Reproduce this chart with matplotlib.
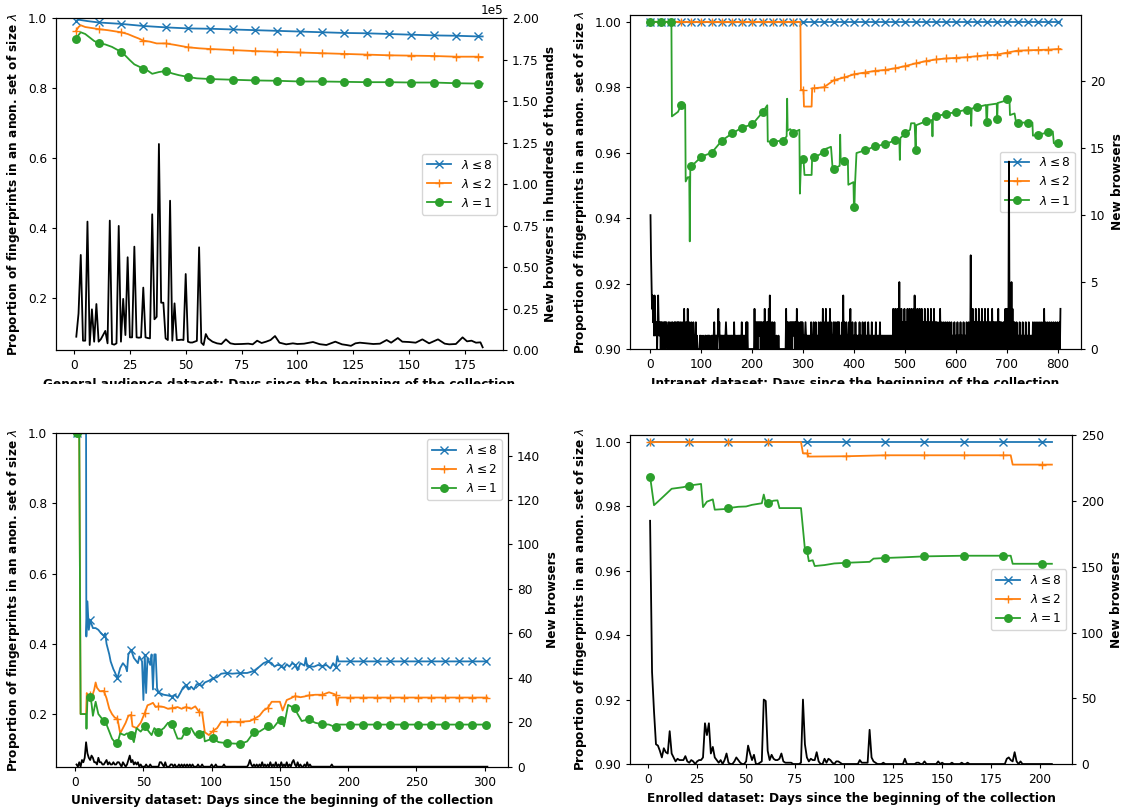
import numpy as np
import matplotlib.pyplot as plt
from matplotlib.lines import Line2D
from matplotlib.patches import Rectangle
from matplotlib.ticker import MultipleLocator

plt.rcParams["font.size"] = 8.7
plt.rcParams["lines.linewidth"] = 1.3
plt.rcParams["lines.markersize"] = 5.4
plt.rcParams["axes.linewidth"] = 0.8
plt.rcParams["xtick.major.size"] = 3
plt.rcParams["ytick.major.size"] = 3

BLUE, ORANGE, GREEN = "#1f77b4", "#ff7f0e", "#2ca02c"
LABELS = ["$\\lambda \\leq 8$", "$\\lambda \\leq 2$", "$\\lambda = 1$"]
YLABEL = "Proportion of fingerprints in an anon. set of size $\\lambda$"
XTAIL = "Days since the beginning of the collection"

# ---------------- general audience ----------------
ga_blue_days = [1, 2, 3, 6, 11, 16, 21, 26, 31, 36, 41, 51, 61, 71, 81, 91, 101,
                111, 121, 131, 141, 151, 161, 171, 181, 183]
ga_blue = [0.993, 0.996, 0.995, 0.992, 0.988, 0.986, 0.984, 0.981, 0.978, 0.976,
           0.974, 0.971, 0.970, 0.968, 0.966, 0.964, 0.962, 0.960, 0.958, 0.957,
           0.955, 0.953, 0.951, 0.950, 0.948, 0.948]
ga_orange_days = [1, 2, 3, 5, 8, 11, 15, 18, 21, 24, 27, 29, 31, 34, 37, 41, 45, 51,
                  56, 61, 71, 81, 91, 101, 111, 121, 131, 141, 151, 161, 171, 181, 183]
ga_orange = [0.965, 0.975, 0.980, 0.975, 0.972, 0.969, 0.966, 0.963, 0.960, 0.955,
             0.947, 0.942, 0.936, 0.933, 0.928, 0.928, 0.924, 0.917, 0.914, 0.912,
             0.909, 0.906, 0.904, 0.902, 0.900, 0.898, 0.896, 0.894, 0.893, 0.892,
             0.890, 0.890, 0.889]
ga_green_days = [1, 2, 3, 5, 7, 9, 11, 14, 17, 21, 23, 25, 27, 29, 31, 33, 35, 38, 41,
                 44, 47, 51, 55, 61, 71, 81, 91, 101, 111, 121, 131, 141, 151, 161,
                 171, 181, 183]
ga_green = [0.940, 0.952, 0.960, 0.955, 0.945, 0.935, 0.929, 0.925, 0.918, 0.904,
            0.893, 0.880, 0.868, 0.862, 0.855, 0.850, 0.841, 0.846, 0.849, 0.842,
            0.837, 0.832, 0.828, 0.826, 0.824, 0.822, 0.821, 0.819, 0.819, 0.818,
            0.817, 0.817, 0.816, 0.816, 0.814, 0.813, 0.813]
ga_new_days = [1, 2, 3, 4, 5, 6, 7, 8, 9, 10, 11, 12, 13, 14, 15, 16, 17, 18, 19, 20,
               21, 22, 23, 24, 25, 26, 27, 28, 29, 30, 31, 32, 33, 34, 35, 36, 37, 38,
               39, 40, 41, 42, 43, 44, 45, 46, 47, 48, 49, 50, 51, 52, 53, 54, 55, 56,
               57, 58, 59, 60, 62, 64, 66, 68, 70, 72, 75, 78, 80, 82, 84, 86, 88, 90,
               92, 95, 98, 100, 103, 107, 110, 113, 117, 120, 122, 124, 126, 128, 131,
               134, 137, 140, 142, 145, 147, 150, 153, 156, 159, 163, 166, 168, 171,
               174, 176, 178, 180, 182, 183]
ga_new = [8000, 22000, 57300, 5600, 5600, 77400, 3000, 24500, 5000, 27700, 5000,
          6500, 9000, 11500, 4000, 78000, 3600, 3200, 4000, 74800, 5000, 30800, 9000,
          55900, 7600, 7600, 62300, 7600, 7400, 7600, 37600, 7600, 7200, 7000, 81800,
          18500, 20000, 124200, 28500, 28500, 7000, 6000, 90000, 5600, 28100, 6000,
          6000, 6200, 6000, 45800, 5000, 4500, 4500, 5000, 5500, 61900, 4400, 3000,
          9600, 7000, 5000, 4000, 3600, 6400, 4000, 3500, 3600, 3800, 3400, 5600,
          4200, 5000, 6000, 8400, 4400, 3400, 4000, 3600, 3800, 4800, 3500, 3000,
          5000, 3400, 3000, 2500, 4000, 4400, 4000, 3600, 3800, 6000, 4400, 7200,
          5000, 4800, 4400, 6400, 4000, 6400, 3800, 3400, 3600, 7600, 5200, 5600,
          4400, 4600, 1600]

# ---------------- intranet ----------------
in_blue_days = [1, 21, 41, 61, 81, 101, 121, 141, 161, 181, 201, 221, 241, 261, 281,
                301, 321, 341, 361, 381, 401, 421, 441, 461, 481, 501, 521, 541, 561,
                581, 601, 621, 641, 661, 681, 701, 721, 741, 761, 781, 801, 805]
in_blue = [1.0] * len(in_blue_days)
in_orange_days = [1, 21, 41, 61, 81, 101, 121, 141, 161, 181, 201, 221, 241, 261, 281,
                  295, 296, 301, 302, 317, 318, 321, 341, 361, 381, 401, 421, 441, 461,
                  481, 501, 521, 541, 561, 581, 601, 621, 641, 661, 681, 701, 721, 741,
                  761, 781, 801, 805]
in_orange = [1.0, 1.0, 1.0, 1.0, 1.0, 1.0, 1.0, 1.0, 1.0, 1.0, 1.0, 1.0, 1.0, 1.0, 1.0,
             1.0, 0.9792, 0.9792, 0.9741, 0.9741, 0.9797, 0.9797, 0.9800, 0.9822,
             0.9830, 0.9840, 0.9845, 0.9850, 0.9853, 0.9858, 0.9865, 0.9873, 0.9880,
             0.9885, 0.9888, 0.9890, 0.9892, 0.9895, 0.9898, 0.9900, 0.9906, 0.9912,
             0.9913, 0.9914, 0.9915, 0.9917, 0.9917]
in_green_days = [1, 21, 41, 42, 43, 55, 61, 69, 70, 74, 77, 78, 79, 81, 101, 121, 141,
                 161, 181, 201, 221, 230, 231, 241, 261, 268, 269, 270, 275, 281, 293,
                 294, 296, 301, 303, 317, 318, 321, 330, 341, 345, 355, 358, 361, 372,
                 373, 374, 381, 388, 389, 399, 400, 401, 402, 405, 421, 441, 461, 481,
                 489, 490, 491, 501, 510, 512, 519, 521, 522, 525, 541, 553, 554, 555,
                 561, 581, 601, 621, 629, 630, 631, 641, 659, 660, 661, 662, 680, 681,
                 682, 695, 701, 705, 706, 715, 718, 721, 741, 750, 751, 761, 781, 790,
                 792, 801, 805]
in_green = [1.0, 1.0, 1.0, 1.0, 0.9711, 0.9725, 0.9746, 0.9746, 0.9512, 0.9525,
            0.9525, 0.9329, 0.9545, 0.9558, 0.9588, 0.9600, 0.9637, 0.9659, 0.9677,
            0.9687, 0.9724, 0.9745, 0.9634, 0.9634, 0.9637, 0.9650, 0.9765, 0.9668,
            0.9672, 0.9661, 0.9670, 0.9475, 0.9566, 0.9580, 0.9532, 0.9532, 0.9585,
            0.9587, 0.9592, 0.9602, 0.9612, 0.9618, 0.9555, 0.9551, 0.9560, 0.9655,
            0.9578, 0.9576, 0.9576, 0.9502, 0.9510, 0.9434, 0.9434, 0.9500, 0.9599,
            0.9607, 0.9619, 0.9626, 0.9638, 0.9640, 0.9578, 0.9645, 0.9659, 0.9670,
            0.9690, 0.9690, 0.9609, 0.9684, 0.9686, 0.9696, 0.9700, 0.9650, 0.9705,
            0.9711, 0.9719, 0.9724, 0.9732, 0.9735, 0.9682, 0.9735, 0.9739, 0.9746,
            0.9694, 0.9694, 0.9746, 0.9750, 0.9703, 0.9752, 0.9758, 0.9763, 0.9763,
            0.9715, 0.9720, 0.9692, 0.9692, 0.9692, 0.9692, 0.9652, 0.9655, 0.9662,
            0.9665, 0.9629, 0.9629, 0.9629]
# daily counts of new browsers, one hex digit per day (a = 10, e = 14)
in_new_rows = [
    "a753423142 2120242122 0212012120 2210121020 1022101202 0120212012 1020113020 1203102101 2010210102 0100000101",
    "0001000110 0101101000 1010120101 1013120101 1010110121 0101010101 1010201010 0101010102 0101010020 2000000000",
    "0000300202 0212120202 1020302120 2030402102 0102000100 0100000000 0000003020 2012021202 1212020301 2010212021",
    "0101210101 0101020101 2010201010 2101201030 1020312010 2030210102 1020102120 2010102040 2010201012 0130102010",
    "1020101010 2010102010 1201010210 1010201010 1020101010 2010101010 1010101010 1010103020 3020302050 2030202030",
    "2020302030 2030203040 3020302030 2030202030 2020302020 3020203020 2020102030 2010201020 1020102010 2010102010",
    "1020101020 1010201010 2010201070 2030202030 2020302020 3020203020 2030202020 3020202020 2030202020 1020203030",
    "303e302050 3020201020 1010201010 2010102010 1020101010 2010201020 1020102010 2030201020 1020102010 2010201020",
    "10203",
]

# ---------------- university ----------------
un_blue_days = [1, 8, 8.2, 9, 10, 11, 13, 15, 17, 19, 21, 22, 23, 25, 26, 28, 29, 31,
                33, 35, 36, 37, 38, 39, 41, 43, 45, 46, 47, 49, 50, 51, 52, 53, 55, 56,
                57, 58, 59, 60, 61, 63, 65, 68, 71, 73, 75, 77, 79, 81, 83, 85, 87, 89,
                91, 93, 95, 98, 101, 104, 107, 111, 115, 121, 126, 131, 135, 138, 141,
                144, 146, 148, 151, 153, 155, 157, 159, 161, 163, 165, 168, 169, 170,
                171, 175, 178, 181, 184, 187, 189, 191, 192, 193, 201, 211, 221, 231,
                241, 251, 261, 271, 281, 291, 301, 302]
un_blue = [1.0, 1.0, 0.421, 0.521, 0.44, 0.467, 0.445, 0.445, 0.44, 0.43, 0.423, 0.43,
           0.40, 0.37, 0.35, 0.328, 0.32, 0.302, 0.331, 0.345, 0.34, 0.335, 0.322, 0.37,
           0.383, 0.36, 0.35, 0.345, 0.364, 0.35, 0.24, 0.369, 0.26, 0.36, 0.34, 0.37,
           0.27, 0.37, 0.37, 0.274, 0.262, 0.258, 0.255, 0.253, 0.25, 0.255, 0.246,
           0.26, 0.275, 0.282, 0.27, 0.278, 0.27, 0.285, 0.285, 0.28, 0.29, 0.295,
           0.302, 0.305, 0.315, 0.317, 0.315, 0.317, 0.317, 0.323, 0.335, 0.345, 0.35,
           0.345, 0.335, 0.34, 0.338, 0.33, 0.342, 0.335, 0.345, 0.34, 0.325, 0.345,
           0.338, 0.36, 0.335, 0.336, 0.335, 0.34, 0.336, 0.34, 0.33, 0.345, 0.334,
           0.365, 0.35, 0.35, 0.35, 0.35, 0.35, 0.35, 0.35, 0.35, 0.35, 0.35, 0.35,
           0.35, 0.35]
un_orange_days = [1, 3, 4, 8, 8.5, 9, 11, 12, 14, 15, 16, 18, 21, 23, 25, 27, 29, 31,
                  33, 35, 37, 39, 41, 42, 45, 48, 51, 53, 55, 57, 59, 61, 65, 68, 71,
                  75, 78, 81, 85, 88, 91, 93, 95, 98, 101, 104, 107, 111, 121, 128, 131,
                  135, 138, 141, 144, 148, 150, 152, 155, 158, 161, 165, 168, 171, 176,
                  181, 186, 189, 191, 192, 193, 201, 211, 221, 231, 241, 251, 261, 271,
                  281, 291, 301, 302]
un_orange = [1.0, 1.0, 0.2, 0.2, 0.26, 0.25, 0.255, 0.245, 0.27, 0.29, 0.275, 0.265,
             0.266, 0.245, 0.215, 0.2, 0.19, 0.187, 0.145, 0.16, 0.175, 0.195, 0.198,
             0.165, 0.16, 0.175, 0.203, 0.225, 0.228, 0.232, 0.22, 0.222, 0.22, 0.215,
             0.217, 0.22, 0.215, 0.22, 0.215, 0.222, 0.205, 0.205, 0.148, 0.14, 0.152,
             0.16, 0.178, 0.178, 0.178, 0.18, 0.186, 0.195, 0.21, 0.217, 0.235, 0.235,
             0.235, 0.21, 0.24, 0.245, 0.251, 0.248, 0.25, 0.253, 0.255, 0.255, 0.262,
             0.258, 0.255, 0.225, 0.247, 0.247, 0.247, 0.247, 0.247, 0.247, 0.247,
             0.247, 0.247, 0.247, 0.247, 0.247, 0.247]
un_green_days = [1, 3, 4, 8, 8.3, 9, 10, 11, 12, 13, 15, 17, 19, 21, 23, 25, 27, 29,
                 31, 33, 36, 38, 41, 43, 45, 48, 51, 54, 56, 58, 61, 65, 68, 71, 73, 75,
                 78, 81, 85, 88, 91, 94, 95, 101, 105, 111, 121, 126, 131, 135, 141,
                 145, 148, 151, 153, 156, 159, 161, 163, 166, 171, 176, 181, 186, 191,
                 193, 201, 211, 221, 231, 241, 251, 261, 271, 281, 291, 301, 302]
un_green = [1.0, 1.0, 0.2, 0.2, 0.158, 0.245, 0.255, 0.25, 0.23, 0.195, 0.235, 0.2,
            0.19, 0.179, 0.17, 0.15, 0.13, 0.12, 0.117, 0.145, 0.14, 0.145, 0.14, 0.12,
            0.16, 0.15, 0.165, 0.15, 0.14, 0.16, 0.149, 0.16, 0.175, 0.173, 0.15, 0.13,
            0.13, 0.153, 0.16, 0.14, 0.143, 0.15, 0.122, 0.131, 0.12, 0.117, 0.115,
            0.122, 0.149, 0.15, 0.165, 0.16, 0.175, 0.182, 0.165, 0.226, 0.22, 0.216,
            0.2, 0.18, 0.185, 0.175, 0.171, 0.17, 0.162, 0.17, 0.17, 0.17, 0.17, 0.17,
            0.17, 0.17, 0.17, 0.17, 0.17, 0.17, 0.17, 0.17]
# days with at least one new browser (all other days: none)
un_new = {1: 1, 3: 2, 5: 3, 6: 2, 7: 4, 8: 11, 9: 6, 10: 4, 11: 3, 12: 5, 13: 4,
          14: 2, 15: 2, 16: 1, 17: 4, 18: 2, 19: 2, 20: 1, 21: 1, 22: 2, 23: 3, 24: 1,
          25: 2, 26: 1, 27: 1, 28: 2, 29: 1, 30: 1, 31: 2, 32: 2, 33: 1, 35: 2, 36: 1,
          38: 1, 39: 3, 40: 5, 41: 2, 42: 3, 43: 1, 44: 2, 45: 1, 46: 2, 48: 1, 52: 1,
          55: 1, 62: 2, 63: 2, 64: 1, 66: 2, 70: 1, 71: 1, 73: 1, 76: 1, 78: 1, 80: 1,
          82: 1, 84: 1, 86: 1, 90: 1, 93: 1, 100: 1, 103: 1, 109: 1, 127: 1, 128: 3,
          129: 1, 131: 1, 133: 1, 135: 1, 137: 2, 139: 1, 141: 1, 143: 2, 145: 1,
          147: 2, 149: 1, 151: 2, 153: 1, 155: 2, 157: 1, 159: 2, 160: 3, 161: 1,
          163: 2, 165: 1, 168: 1, 170: 2, 172: 1, 188: 1}
un_last_day = 302

# ---------------- enrolled ----------------
en_blue_days = [1, 21, 41, 61, 81, 101, 121, 141, 161, 181, 201, 206]
en_blue = [1.0] * len(en_blue_days)
en_orange_days = [1, 21, 41, 61, 78, 79, 81, 82, 101, 121, 141, 161, 181, 185, 186,
                  201, 206]
en_orange = [1.0, 1.0, 1.0, 1.0, 1.0, 0.9965, 0.9965, 0.9955, 0.9956, 0.9959, 0.9959,
             0.9959, 0.9959, 0.9959, 0.9930, 0.9930, 0.9930]
en_green_days = [1, 3, 5, 8, 12, 18, 21, 27, 28, 30, 33, 34, 39, 41, 46, 50, 53, 58,
                 59, 60, 61, 64, 66, 67, 78, 80, 81, 82, 84, 85, 90, 95, 101, 113, 115,
                 121, 130, 141, 161, 181, 185, 186, 201, 206]
en_green = [0.9893, 0.9804, 0.9815, 0.9832, 0.9855, 0.9860, 0.9865, 0.9870, 0.9798,
            0.9815, 0.9822, 0.9790, 0.9792, 0.9795, 0.9799, 0.9800, 0.9805, 0.9810,
            0.9837, 0.9812, 0.9810, 0.9818, 0.9819, 0.9795, 0.9795, 0.9667, 0.9665,
            0.9630, 0.9633, 0.9615, 0.9618, 0.9623, 0.9625, 0.9628, 0.9638, 0.9640,
            0.9642, 0.9645, 0.9647, 0.9647, 0.9647, 0.9622, 0.9622, 0.9622]
en_new = {1: 185, 2: 70, 3: 40, 4: 15, 5: 14, 6: 10, 7: 5, 8: 12, 9: 9, 10: 8, 11: 25,
          12: 8, 13: 5, 14: 2, 15: 4, 16: 3, 17: 3, 18: 3, 19: 6, 20: 2, 21: 1, 22: 3,
          23: 2, 25: 2, 26: 3, 27: 3, 28: 5, 29: 31, 30: 22, 31: 31, 32: 8, 33: 13,
          34: 5, 35: 3, 36: 1, 37: 3, 39: 3, 40: 8, 41: 1, 44: 2, 45: 5, 46: 3, 47: 1,
          50: 2, 51: 14, 52: 8, 53: 3, 54: 7, 57: 1, 58: 2, 59: 49, 60: 48, 61: 10,
          62: 3, 63: 7, 64: 4, 65: 3, 66: 3, 67: 4, 68: 8, 69: 2, 70: 1, 71: 1, 72: 1,
          73: 1, 78: 1, 79: 49, 80: 15, 81: 5, 82: 2, 83: 4, 84: 3, 85: 3, 86: 9, 87: 2,
          90: 4, 91: 1, 92: 4, 93: 3, 94: 1, 96: 2, 97: 2, 98: 1, 108: 3, 109: 1,
          110: 1, 111: 1, 112: 1, 113: 26, 114: 5, 115: 2, 116: 1, 120: 1, 131: 4,
          137: 1, 138: 1, 141: 2, 148: 2, 150: 1, 155: 1, 160: 1, 163: 1, 183: 4,
          184: 5, 185: 3, 186: 2, 187: 9, 188: 2, 190: 2}
en_last_day = 206


def sparse_counts(counts, last_day):
    days = np.arange(1, last_day + 1)
    vals = np.zeros(last_day)
    for d, c in counts.items():
        vals[d - 1] = c
    return days, vals


def hex_counts(rows):
    digits = "".join(rows).replace(" ", "")
    return np.arange(1, len(digits) + 1), np.array([int(c, 16) for c in digits])


fig = plt.figure(figsize=(11.24, 8.09), dpi=100)


def draw_panel(rect, series, every, new_days, new_vals, name, ylim, yticks,
               ylim2, yticks2, ylabel2, xstep, legend_loc):
    ax = fig.add_axes(rect)
    for (days, vals), color, marker in zip(series, [BLUE, ORANGE, GREEN], ["x", "+", "o"]):
        days = np.asarray(days, dtype=float)
        mark = np.isclose(np.mod(days - 1, every), 0)
        ax.plot(days, vals, color=color, marker=marker, markevery=list(np.flatnonzero(mark)))
    ax.set_ylim(*ylim)
    ax.set_yticks(yticks)
    ax.xaxis.set_major_locator(MultipleLocator(xstep))
    ax.set_xlabel(name + " dataset: " + XTAIL, fontweight="bold")
    ax.set_ylabel(YLABEL, fontweight="bold")
    handles = [Line2D([], [], color=c, marker=m) for c, m in
               zip([BLUE, ORANGE, GREEN], ["x", "+", "o"])]
    ax.legend(handles, LABELS, loc=legend_loc)

    ax2 = ax.twinx()
    ax2.plot(new_days, new_vals, color="black")
    ax2.set_ylim(*ylim2)
    ax2.set_yticks(yticks2)
    ax2.set_ylabel(ylabel2, fontweight="bold")
    return ax, ax2


ax, ax2 = draw_panel([0.0498, 0.5674, 0.3977, 0.4100],
                     [(ga_blue_days, ga_blue), (ga_orange_days, ga_orange),
                      (ga_green_days, ga_green)], 10, ga_new_days, ga_new,
                     "General audience", (0.05, 1.0), [0.2, 0.4, 0.6, 0.8, 1.0],
                     (0, 200000), np.arange(0, 200001, 25000),
                     "New browsers in hundreds of thousands", 25, "center right")
ax2.ticklabel_format(axis="y", style="sci", scilimits=(5, 5))

in_days, in_counts = hex_counts(in_new_rows)
draw_panel([0.5605, 0.5686, 0.4012, 0.4129],
           [(in_blue_days, in_blue), (in_orange_days, in_orange),
            (in_green_days, in_green)], 20, in_days, in_counts,
           "Intranet", (0.9, 1.0021), np.arange(0.90, 1.001, 0.02),
           (0, 24.95), [0, 5, 10, 15, 20], "New browsers", 100, "center right")

un_days, un_counts = sparse_counts(un_new, un_last_day)
draw_panel([0.0498, 0.0523, 0.4021, 0.4121],
           [(un_blue_days, un_blue), (un_orange_days, un_orange),
            (un_green_days, un_green)], 10, un_days, un_counts,
           "University", (0.05, 1.0), [0.2, 0.4, 0.6, 0.8, 1.0],
           (0, 150), np.arange(0, 141, 20), "New browsers", 50, "upper right")

en_days, en_counts = sparse_counts(en_new, en_last_day)
draw_panel([0.5605, 0.0556, 0.3932, 0.4063],
           [(en_blue_days, en_blue), (en_orange_days, en_orange),
            (en_green_days, en_green)], 20, en_days, en_counts,
           "Enrolled", (0.9, 1.0021), np.arange(0.90, 1.001, 0.02),
           (0, 250), np.arange(0, 251, 50), "New browsers", 25, "center right")

# the top row's axis titles are cut off by the lower row
fig.add_artist(Rectangle((0, 1 - 415 / 809), 1, 31 / 809, transform=fig.transFigure,
                         facecolor="white", edgecolor="none", zorder=10))

fig.savefig("out.png", dpi=100)
